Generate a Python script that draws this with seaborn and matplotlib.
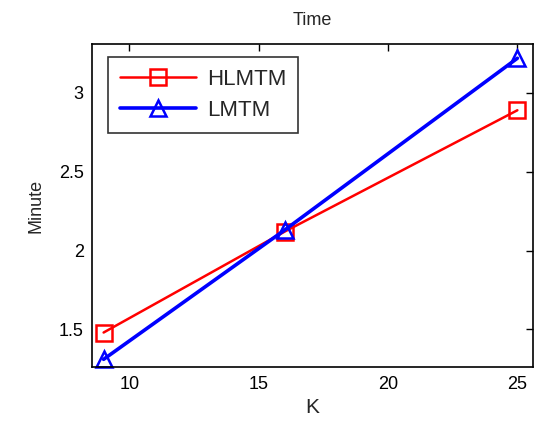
import matplotlib
matplotlib.use("Agg")
import matplotlib.pyplot as plt
import numpy as np
import pandas as pd
import seaborn as sns

k_values = [9, 16, 25]
hlmtm = [1.48, 2.12, 2.89]
lmtm = [1.31, 2.13, 3.22]
methods = ["HLMTM", "LMTM"]

df = pd.DataFrame({
    "K": k_values * 2,
    "Minute": hlmtm + lmtm,
    "method": [methods[0]] * 3 + [methods[1]] * 3,
})

sns.set_style("white")
plt.rcParams["font.family"] = ["Liberation Sans", "DejaVu Sans"]

fig = plt.figure(figsize=(5.41, 4.32), dpi=100)
ax = fig.add_axes([0.170, 0.150, 0.815, 0.748])
sns.lineplot(data=df, x="K", y="Minute", hue="method", style="method",
             palette={"HLMTM": "#ff0000", "LMTM": "#0000ff"},
             markers={"HLMTM": "s", "LMTM": "^"}, dashes=False,
             markersize=11, ax=ax, legend=False, clip_on=False)
for line, lw in zip(ax.lines, [1.8, 2.6]):
    line.set_linewidth(lw)
    line.set_markeredgecolor(line.get_color())
    line.set_markerfacecolor("none")
    line.set_markeredgewidth(1.8)

ax.set_xlim(8.55, 25.6)
ax.set_ylim(1.26, 3.31)
ax.set_xticks([10, 15, 20, 25])
ax.set_yticks([1.5, 2, 2.5, 3])
ax.set_yticklabels(["1.5", "2", "2.5", "3"])
ax.tick_params(direction="in", top=True, right=True, length=5, width=1,
               labelsize=13, colors="black", pad=6)
for s in ax.spines.values():
    s.set_color("black")
    s.set_linewidth(1.2)
ax.set_xlabel("K", fontsize=15, labelpad=4)
ax.set_ylabel("Minute", fontsize=13, labelpad=10)
ax.set_title("Time", fontsize=13, pad=14)

leg = ax.legend(handles=ax.lines[:2], labels=methods, loc="upper left",
                fontsize=16, frameon=True, fancybox=False, edgecolor="black",
                handlelength=3.4, borderpad=0.55, labelspacing=0.45,
                handletextpad=0.5, borderaxespad=0,
                bbox_to_anchor=(0.036, 0.96))
leg.get_frame().set_linewidth(1.2)

fig.savefig("out.png", dpi=100)
